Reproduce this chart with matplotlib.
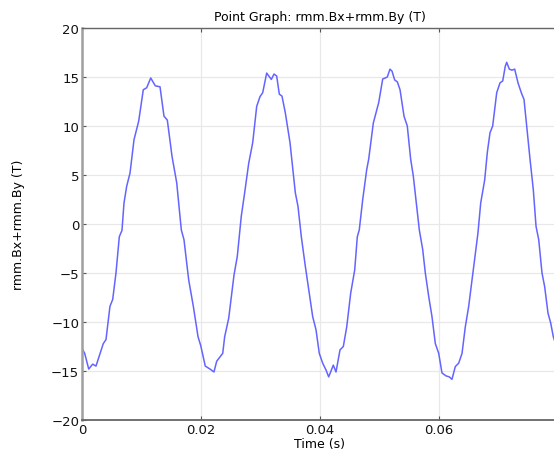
import matplotlib
matplotlib.use("Agg")
import matplotlib.pyplot as plt

# time (s) and value (T)
t = [0.0001, 0.00045, 0.00113, 0.0018, 0.00235, 0.00358, 0.00403, 0.0047, 0.00516,
     0.00571, 0.00627, 0.00672, 0.00706, 0.00751, 0.00807, 0.00874, 0.00953, 0.0103,
     0.01087, 0.01155, 0.01232, 0.01311, 0.01378, 0.01434, 0.01513, 0.01592, 0.01669,
     0.01714, 0.01793, 0.01871, 0.0195, 0.01995, 0.02072, 0.02151, 0.02218, 0.02264,
     0.02365, 0.02398, 0.02466, 0.02555, 0.0261, 0.02677, 0.02734, 0.02802, 0.02869,
     0.02936, 0.02992, 0.03037, 0.03104, 0.03182, 0.03227, 0.03272, 0.03316, 0.03361,
     0.03417, 0.03496, 0.03551, 0.03585, 0.0363, 0.03686, 0.03753, 0.0382, 0.03877,
     0.03933, 0.03988, 0.04045, 0.04101, 0.04146, 0.04224, 0.04269, 0.04336, 0.04392,
     0.04449, 0.04516, 0.04583, 0.04627, 0.0466, 0.04718, 0.04785, 0.04818, 0.04896,
     0.04987, 0.05054, 0.05097, 0.05131, 0.05176, 0.0521, 0.05255, 0.053, 0.05345,
     0.05412, 0.05467, 0.05524, 0.05568, 0.05625, 0.05669, 0.05726, 0.0577, 0.05827,
     0.05882, 0.05938, 0.05995, 0.0605, 0.06118, 0.06173, 0.06218, 0.06274, 0.06331,
     0.06387, 0.06442, 0.06499, 0.06555, 0.0661, 0.06655, 0.06701, 0.06768, 0.06812,
     0.06857, 0.06902, 0.0697, 0.07025, 0.07071, 0.07114, 0.07138, 0.07182, 0.07227,
     0.07272, 0.07328, 0.07383, 0.07429, 0.07474, 0.0753, 0.07585, 0.07631, 0.07676,
     0.07731, 0.07776, 0.07832, 0.07877, 0.07921, 0.08]
b = [-12.8, -13.2, -14.8, -14.3, -14.5, -12.2, -11.8, -8.4, -7.7,
     -5.0, -1.3, -0.65, 2.15, 3.85, 5.2, 8.6, 10.5, 13.7,
     13.9, 14.9, 14.1, 14.0, 11.0, 10.6, 6.9, 4.2, -0.6,
     -1.6, -5.7, -8.4, -11.5, -12.4, -14.5, -14.8, -15.1, -14.0,
     -13.2, -11.5, -9.6, -5.2, -3.3, 0.8, 3.2, 6.2, 8.3,
     12.0, 13.0, 13.4, 15.4, 14.75, 15.3, 15.1, 13.25, 13.05,
     11.35, 8.3, 5.2, 3.2, 1.8, -1.3, -4.3, -7.05, -9.45,
     -10.8, -13.2, -14.2, -14.9, -15.6, -14.4, -15.1, -12.85, -12.5,
     -10.5, -7.05, -4.7, -1.3, -0.6, 2.5, 5.55, 6.6, 10.3,
     12.4, 14.8, 14.9, 15.0, 15.8, 15.6, 14.7, 14.5, 13.7,
     11.0, 10.0, 6.6, 4.9, 1.8, -0.6, -2.6, -5.0, -7.4,
     -9.45, -12.2, -13.2, -15.2, -15.5, -15.6, -15.85, -14.55, -14.2,
     -13.2, -10.5, -8.4, -5.7, -3.0, -0.9, 2.15, 4.5, 7.3,
     9.3, 10.0, 13.4, 14.4, 14.6, 16.1, 16.5, 15.8, 15.7,
     15.8, 14.4, 13.4, 12.7, 10.0, 6.6, 3.5, -0.25, -1.6,
     -5.0, -6.4, -9.1, -10.1, -11.5, -13.0]

x_ticks = [0, 0.02, 0.04, 0.06]
x_labels = ["0", "0.02", "0.04", "0.06"]
y_ticks = [-20, -15, -10, -5, 0, 5, 10, 15, 20]

fig = plt.figure(figsize=(5.54, 4.52), dpi=100)
ax = fig.add_axes([82 / 554, 1 - 421 / 452, 476 / 554, 392 / 452])

ax.plot(t, b, color="#6464ff", linewidth=1.1)

ax.set_xlim(0, 0.08)
ax.set_ylim(-20, 20)
ax.set_xticks(x_ticks)
ax.set_xticklabels(x_labels)
ax.set_yticks(y_ticks)
ax.grid(True, color="#e8e8e8", linewidth=0.9)
ax.set_axisbelow(True)

ax.tick_params(direction="in", length=3, width=0.8, color="#555555",
               labelsize=9.5, pad=2, top=True, labelcolor="#111111")
for side in ["bottom", "top", "right"]:
    ax.spines[side].set_color("#666666")
ax.spines["left"].set_color("#a0a0a0")
ax.spines["left"].set_linewidth(1.8)
ax.spines["bottom"].set_linewidth(1.3)
ax.spines["top"].set_linewidth(1.0)

ax.set_title("Point Graph: rmm.Bx+rmm.By (T)", fontsize=9, pad=6)
ax.set_xlabel("Time (s)", fontsize=9, labelpad=1)
ax.set_ylabel("rmm.Bx+rmm.By (T)", fontsize=9, labelpad=19)

fig.savefig("out.png", dpi=100)
